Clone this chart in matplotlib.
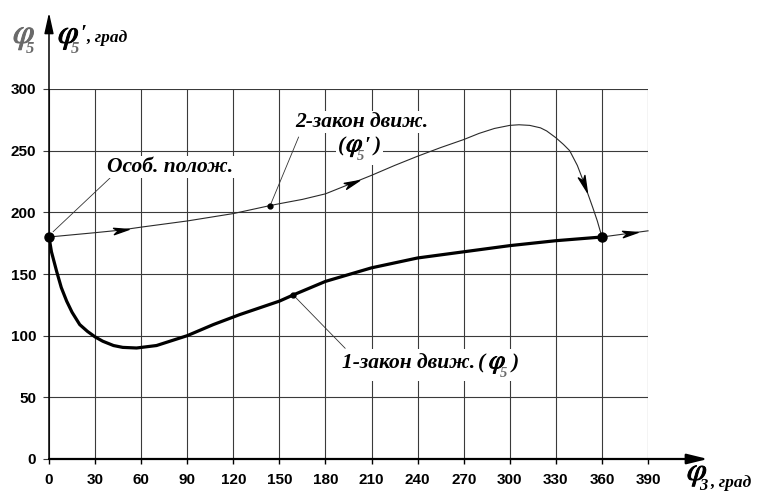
import numpy as np
import matplotlib
matplotlib.use("Agg")
import matplotlib.pyplot as plt
import matplotlib.patheffects as pe
from matplotlib.path import Path
from matplotlib.markers import MarkerStyle
from matplotlib.transforms import Affine2D
from matplotlib.patches import Rectangle

# ---------------- data ----------------
x_ticks = [0, 30, 60, 90, 120, 150, 180, 210, 240, 270, 300, 330, 360, 390]
y_ticks = [0, 50, 100, 150, 200, 250, 300]

# law 1 (phi5), thick curve
law1_x = [0, 1.6, 5, 8, 11.5, 15, 20, 25, 30, 35, 42, 48, 57, 70, 90, 107, 124,
          150, 159, 180, 210, 240, 270, 300, 330, 360]
law1_y = [180, 168, 152, 139, 128, 119, 109, 103.5, 99, 95.5, 92, 90.5, 90, 92, 100, 109, 117,
          128, 133, 144, 155, 163, 168, 173, 177, 180]

# law 2 (phi5'), thin curve
law2_x = [0, 30, 46, 60, 90, 120, 144, 150, 165, 180, 196, 210, 225, 240, 255, 270, 280, 290, 300,
          306, 313, 320, 324, 330, 335, 339, 344, 348, 354, 357, 360]
law2_y = [180, 183.5, 185.5, 188, 193, 199, 205.5, 207, 210.5, 215, 223, 230, 238, 245.5, 252.5, 259,
          264, 268, 270.5, 271, 270.5, 268.5, 266, 260.5, 255, 250, 238, 225, 204, 193, 180]

# continuation after 360
cont_x = [360, 390]
cont_y = [180, 185]

# ---------------- figure ----------------
W, H = 769, 497
fig = plt.figure(figsize=(W / 100, H / 100), dpi=100)
ax = fig.add_axes([49 / W, 38 / H, 599 / W, 370 / H])
ax.set_xlim(0, 390)
ax.set_ylim(0, 300)
for s in ax.spines.values():
    s.set_visible(False)

grid_c = "#3a3a3a"
ax.set_xticks(x_ticks)
ax.set_yticks(y_ticks)
ax.grid(True, color=grid_c, linewidth=0.8, zorder=0)
ax.set_axisbelow(True)
ax.tick_params(axis="x", direction="out", length=3.8, width=1.0, color="black", pad=6.5)
ax.tick_params(axis="y", direction="out", length=4.3, width=0.8, color=grid_c, pad=5)
for lab in ax.get_xticklabels() + ax.get_yticklabels():
    lab.set_fontfamily("Liberation Sans")
    lab.set_fontweight("bold")
    lab.set_fontsize(11)

# axes with arrows
ax.annotate("", xy=(429, 0), xytext=(0, 0), xycoords="data",
            arrowprops=dict(arrowstyle="-|>,head_length=0.9,head_width=0.22", color="black",
                            lw=1.6, shrinkA=0, shrinkB=0, mutation_scale=14),
            annotation_clip=False, zorder=5)
ax.annotate("", xy=(0, 362), xytext=(0, 0), xycoords="data",
            arrowprops=dict(arrowstyle="-|>,head_length=0.9,head_width=0.2", color="black",
                            lw=1.1, shrinkA=0, shrinkB=0, mutation_scale=14),
            annotation_clip=False, zorder=5)

# curves
ax.plot(law1_x, law1_y, color="black", lw=2.3, solid_capstyle="round", solid_joinstyle="round",
        zorder=4)
ax.plot(law2_x, law2_y, color="#2a2a2a", lw=0.8, solid_joinstyle="round", zorder=4)
ax.plot(cont_x, cont_y, color="#2a2a2a", lw=0.8, zorder=4, clip_on=False)

# arrowheads along curves
arrow_path = Path([(1.0, 0.0), (-1.0, 0.42), (-0.45, 0.0), (-1.0, -0.42), (1.0, 0.0)],
                  [Path.MOVETO, Path.LINETO, Path.LINETO, Path.LINETO, Path.CLOSEPOLY])


def arrow_on(xs, ys, xc, size=11):
    x0, x1 = xc - 2, xc + 2
    y0, y1 = np.interp([x0, x1], xs, ys)
    yc = np.interp(xc, xs, ys)
    p0 = ax.transData.transform((x0, y0))
    p1 = ax.transData.transform((x1, y1))
    ang = np.degrees(np.arctan2(p1[1] - p0[1], p1[0] - p0[0]))
    m = MarkerStyle(arrow_path, transform=Affine2D().rotate_deg(ang))
    ax.plot([xc], [yc], marker=m, markersize=size, color="black", lw=0,
            zorder=6, clip_on=False)


arrow_on(law2_x, law2_y, 47)
arrow_on(law2_x, law2_y, 197)
arrow_on(law2_x, law2_y, 348.5, size=12)
arrow_on(cont_x, cont_y, 378)

# points
ax.plot([0, 360], [180, 180], "o", color="black", markersize=6.5, zorder=7, clip_on=False)
ax.plot([144, 159], [205.5, 133], "o", color="black", markersize=3.5, zorder=7)

# leader lines
lead_c = "#333333"
ax.plot([2.7, 39.7], [184.3, 227.8], color=lead_c, lw=0.6, zorder=3)
ax.plot([144, 162.5], [205.5, 261], color=lead_c, lw=0.6, zorder=3)
ax.plot([159, 192.8], [133, 89.8], color=lead_c, lw=0.6, zorder=3)

# ---------------- texts ----------------
renderer = fig.canvas.get_renderer()
CYR = dict(family="Liberation Serif", style="italic", weight="bold")
PHI = dict(math_fontfamily="stix")
PHI_T = r"$\varphi$"
gray = "#6a6a6a"


def seq(x, y, pieces, box=False):
    """pieces: (text, size, color, dx, dy, fontdict, anchor) ; pixel coords from top-left,
    y is baseline; anchor = index of piece whose right edge is the start (default previous)."""
    rights = []
    arts = []
    for i, (txt, size, color, dx, dy, fd, anc) in enumerate(pieces):
        if i == 0:
            start = x
        else:
            start = rights[anc if anc is not None else i - 1]
        t = fig.text((start + dx) / W, (H - (y + dy)) / H, txt, fontsize=size, color=color,
                     ha="left", va="baseline", zorder=10, **fd)
        if txt == PHI_T:
            t.set_path_effects([pe.withStroke(linewidth=0.7, foreground=color)])
        bb = t.get_window_extent(renderer)
        rights.append(bb.x1)
        arts.append(bb)
    if box:
        x0 = min(b.x0 for b in arts) - 2
        x1 = max(b.x1 for b in arts) + 2
        y0 = min(b.y0 for b in arts) - 1
        y1 = max(b.y1 for b in arts) + 1
        fig.patches.append(Rectangle((x0 / W, y0 / H), (x1 - x0) / W, (y1 - y0) / H,
                                     transform=fig.transFigure, facecolor="white",
                                     edgecolor="none", zorder=9))


seq(106.7, 171.7, [("Особ. полож.", 15.5, "black", 0, 0, CYR, None)], box=True)
seq(295, 126.7, [("2-закон движ.", 15.5, "black", 0, 0, CYR, None)], box=True)
seq(338, 151.5, [("(", 15.5, "black", 0, 0, CYR, None),
                 (PHI_T, 19, "black", 1, 0, PHI, None),
                 ("5", 10.5, gray, -7, 9, CYR, None),
                 ("′", 15, "black", 1, 0, CYR, 1),
                 (")", 15.5, "black", 3, 0, CYR, None)], box=True)
seq(341.7, 368.3, [("1-закон движ.", 15.5, "black", 0, 0, CYR, None),
                   ("(", 15.5, "black", 3, 0, CYR, None),
                   (PHI_T, 19, "black", 4, 0, PHI, None),
                   ("5", 10.5, gray, -7, 9, CYR, None),
                   (")", 15.5, "black", 5, 0, CYR, None)], box=True)

# y axis title (top-left)
seq(13, 43, [(PHI_T, 25, gray, 0, 0, PHI, None),
             ("5", 12, gray, -10, 10, CYR, None)])
seq(58, 43, [(PHI_T, 24, "black", 0, 0, PHI, None),
             ("5", 12, gray, -9, 10, CYR, None),
             ("′", 15, "black", 1, -4, CYR, 0),
             (", град", 12.5, "black", 0, -1, CYR, None)])

# x axis title
seq(687, 480, [(PHI_T, 23, "black", 0, 0, PHI, None),
               ("3", 12, "black", -9, 10, CYR, None),
               (", град", 12.5, "black", 2, 7, CYR, 0)])

fig.savefig("out.png", dpi=100, facecolor="white")
